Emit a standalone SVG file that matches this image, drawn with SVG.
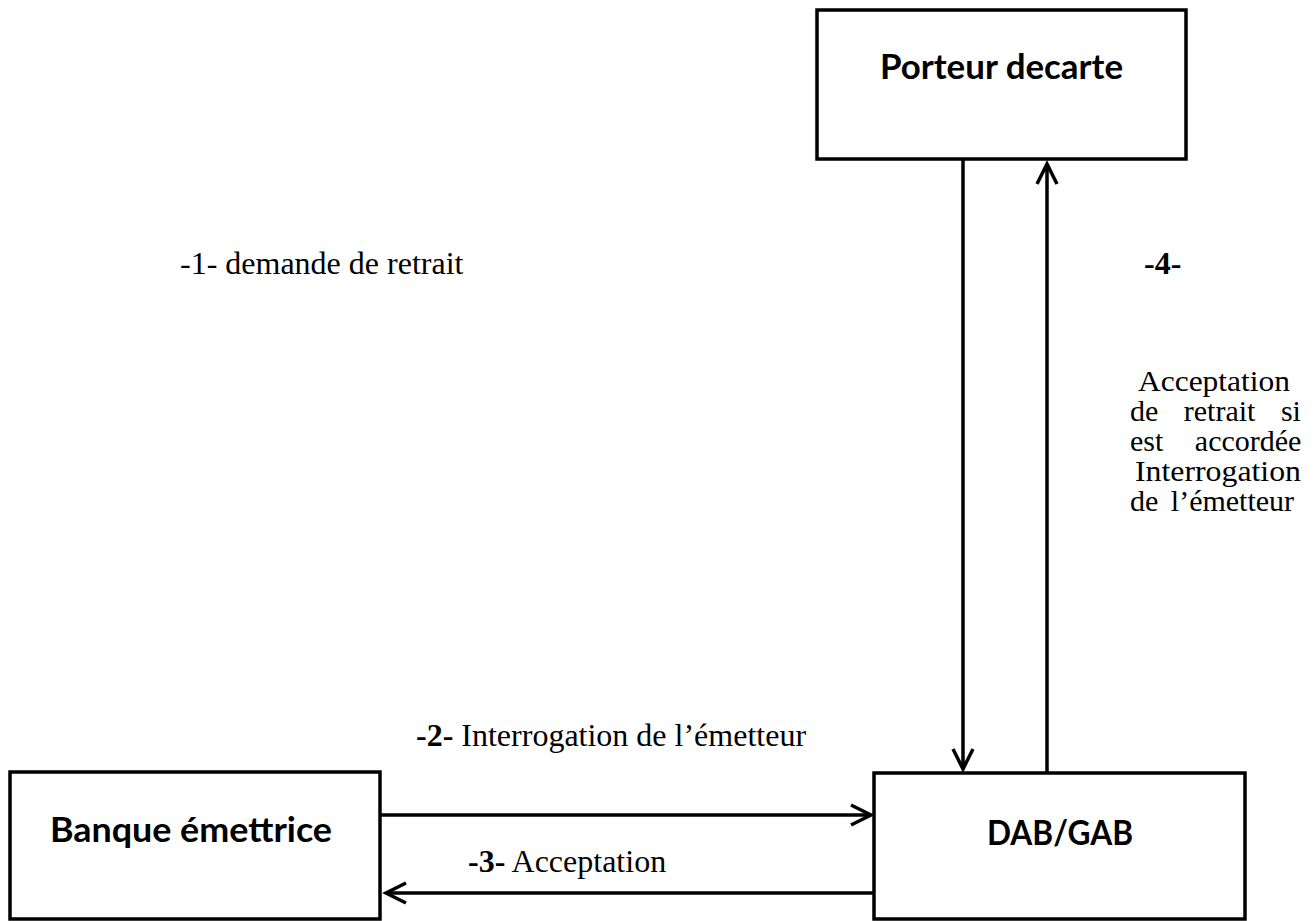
<svg xmlns="http://www.w3.org/2000/svg" width="1316" height="921" viewBox="0 0 1316 921">
<style>
.box{fill:#fff;stroke:#000;stroke-width:3.5}
.lbl{font-family:Lato,"Open Sans","Liberation Sans",sans-serif;font-weight:700;font-size:35px;fill:#000}
.txt{font-family:"Liberation Serif","Times New Roman",serif;font-size:32px;fill:#000}
.par{font-family:"Liberation Serif","Times New Roman",serif;font-size:30px;fill:#000}
.b{font-weight:700}
.conn{stroke:#000;stroke-width:3.5;fill:none}
</style>
<defs>
<marker id="arr" markerUnits="userSpaceOnUse" markerWidth="30" markerHeight="30" viewBox="-24 -15 30 30" refX="0" refY="0" orient="auto" overflow="visible">
<path d="M-20,-10 L0,0 L-20,10" fill="none" stroke="#000" stroke-width="3.5" stroke-linejoin="miter"/>
</marker>
</defs>
<rect width="1316" height="921" fill="#fff"/>
<g id="connectors">
<line class="conn" x1="963" y1="159" x2="963" y2="769" marker-end="url(#arr)"/>
<line class="conn" x1="1047" y1="773" x2="1047" y2="164" marker-end="url(#arr)"/>
<line class="conn" x1="380" y1="815" x2="871" y2="815" marker-end="url(#arr)"/>
<line class="conn" x1="874" y1="893" x2="386" y2="893" marker-end="url(#arr)"/>
</g>
<g id="porteur">
<rect class="box" x="817" y="10" width="369" height="149"/>
<text class="lbl" x="880" y="79" textLength="243" lengthAdjust="spacingAndGlyphs">Porteur decarte</text>
</g>
<g id="banque">
<rect class="box" x="10" y="772" width="370" height="147"/>
<text class="lbl" x="50" y="842" textLength="282" lengthAdjust="spacingAndGlyphs">Banque émettrice</text>
</g>
<g id="dab">
<rect class="box" x="874" y="773" width="371" height="146"/>
<text class="lbl" x="987" y="845" textLength="146" lengthAdjust="spacingAndGlyphs">DAB/GAB</text>
</g>
<g id="labels">
<text class="txt" x="180" y="274">-1- demande de retrait</text>
<text class="txt" x="416" y="746"><tspan class="b">-2-</tspan> Interrogation de l’émetteur</text>
<text class="txt" x="468" y="872"><tspan class="b">-3-</tspan> Acceptation</text>
<text class="txt b" x="1144" y="274">-4-</text>
<text class="par" x="1138" y="391" textLength="152" lengthAdjust="spacingAndGlyphs">Acceptation</text>
<text class="par" x="1130" y="421" word-spacing="18">de retrait si</text>
<text class="par" x="1130" y="451" word-spacing="24">est accordée</text>
<text class="par" x="1135" y="481" textLength="166" lengthAdjust="spacingAndGlyphs">Interrogation</text>
<text class="par" x="1130" y="511" word-spacing="5">de l’émetteur</text>
</g>
</svg>
